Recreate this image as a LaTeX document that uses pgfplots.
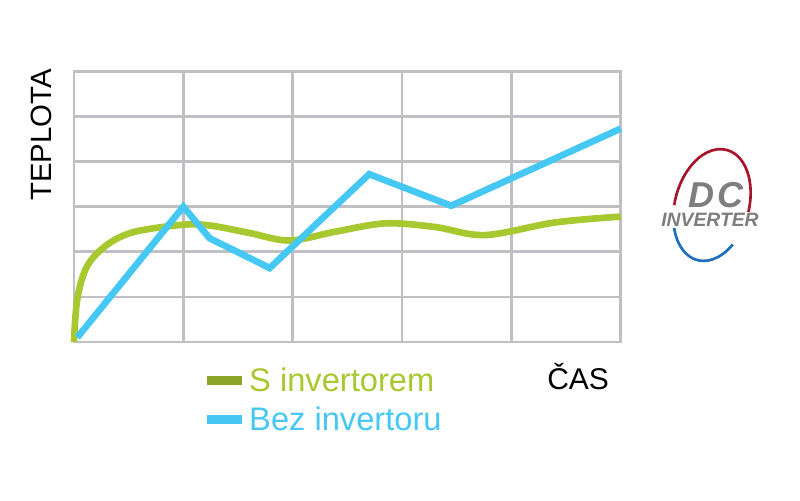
\documentclass[border=0pt]{standalone}
\usepackage{pgfplots}
\pgfplotsset{compat=1.18}
\usepackage{fontspec}
\setmainfont{Liberation Sans}

\definecolor{gridgray}{HTML}{C0C0C4}
\definecolor{lineblue}{HTML}{45C8F4}
\definecolor{linegreen}{HTML}{A7C82F}
\definecolor{keygreen}{HTML}{8BA52A}
\definecolor{logored}{HTML}{A8142A}
\definecolor{logoblue}{HTML}{1E6FC0}
\definecolor{logogray}{HTML}{7E7E7E}

\begin{document}
\begin{tikzpicture}
\path[use as bounding box] (0,0) rectangle (600pt,375pt);
\begin{axis}[
    at={(55.5pt,118.5pt)}, anchor=south west,
    scale only axis, width=410pt, height=203pt,
    xmin=0, xmax=5, ymin=0, ymax=6,
    xtick={0,...,5}, ytick={0,...,6},
    xticklabels={}, yticklabels={},
    major tick length=0pt,
    grid=major,
    grid style={draw=gridgray, line width=2pt},
    axis line style={draw=gridgray, line width=2pt},
    clip=false,
    legend cell align=left,
    legend style={at={(0.228,-0.075)}, anchor=north west,
      draw=none, fill=none, font=\fontsize{24.5}{28}\selectfont,
      row sep=6pt},
  ]
  % S invertorem
  \addplot[color=linegreen, line width=5pt, smooth, tension=0.55,
    legend image code/.code={\draw[keygreen, line width=6.75pt] (0pt,0pt) -- (26pt,0pt);}]
    coordinates {
    (0.0,0.0) (0.03,0.95) (0.12,1.68) (0.3,2.15) (0.55,2.44) (1.0,2.6)
    (1.25,2.58) (1.6,2.42) (1.97,2.25) (2.4,2.45) (2.85,2.63)
    (3.3,2.55) (3.76,2.37) (4.4,2.65) (5.0,2.78)
  };
  \addlegendentry{\textcolor{linegreen}{S invertorem}}
  % Bez invertoru
  \addplot[color=lineblue, line width=5pt,
    legend image code/.code={\draw[lineblue, line width=6.75pt] (0pt,0pt) -- (26pt,0pt);}]
    coordinates {
    (0.03,0.1) (1.0,3.0) (1.24,2.3) (1.79,1.64) (2.70,3.72) (3.45,3.02) (5.0,4.73)
  };
  \addlegendentry{\textcolor{lineblue}{Bez invertoru}}
\end{axis}

% axis titles
\node[rotate=90, anchor=base, inner sep=0pt, font=\fontsize{22}{22}\selectfont]
  at (38.25pt,273.75pt) {TEPLOTA};
\node[anchor=base west, inner sep=0pt, font=\fontsize{22.5}{22.5}\selectfont]
  at (410.25pt,82.5pt) {ČAS};

% DC inverter badge
\begin{scope}[shift={(534pt,221.25pt)}]
  \begin{scope}[rotate=-15]
    \draw[logored, line width=2pt]
      ({27.75pt*cos(-8)},{42.75pt*sin(-8)})
      arc[start angle=-8, end angle=190, x radius=27.75pt, y radius=42.75pt];
    \draw[logoblue, line width=2pt]
      ({27.75pt*cos(205)},{42.75pt*sin(205)})
      arc[start angle=205, end angle=325, x radius=27.75pt, y radius=42.75pt];
  \end{scope}
  \node[inner sep=0pt, text depth=0pt, text=logogray,
    font=\fontsize{27}{27}\selectfont\bfseries\itshape]
    at (3pt,7.5pt) {D\hspace{3pt}C};
  \node[inner sep=0.5pt, text height=10.5pt, text depth=0pt, fill=white, text=logogray,
    font=\fontsize{14.5}{14.5}\selectfont\bfseries\itshape]
    at (-1.5pt,-11.25pt) {INVERTER};
\end{scope}
\end{tikzpicture}
\end{document}
